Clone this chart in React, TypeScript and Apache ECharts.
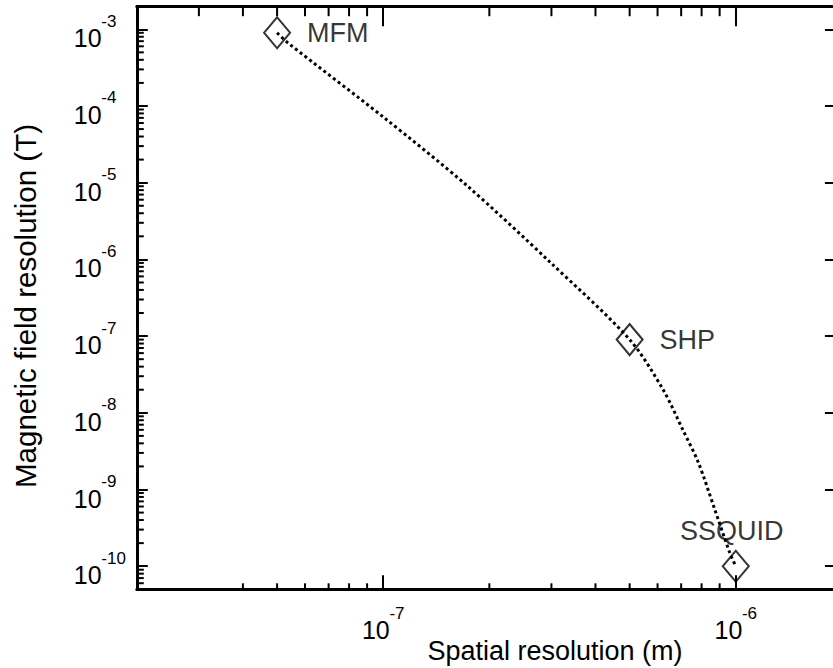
import React, { useEffect, useRef } from 'react';
import * as echarts from 'echarts';

// Instruments (points)
const instruments = ['MFM', 'SHP', 'SSQUID'];
const spatialRes = [5e-8, 5e-7, 1e-6];
const fieldRes = [9e-4, 9e-8, 1e-10];

// Dotted trend curve
const curveX = [5e-8, 5.37e-8, 1e-7, 1.72e-7, 2.97e-7, 5e-7, 6.23e-7, 7.08e-7, 7.84e-7, 8.67e-7, 9.63e-7, 1e-6];
const curveY = [9e-4, 6.63e-4, 7.19e-5, 9.33e-6, 9.25e-7, 9e-8, 1.98e-8, 5.97e-9, 2.22e-9, 5.92e-10, 1.47e-10, 1e-10];

// Axis ranges
const xRange = [2e-8, 2e-6];
const yRange = [5e-11, 2e-3];

// Minor tick values
const xMinorBottom = [4e-8, 5e-8, 6e-8, 7e-8, 8e-8, 9e-8, 2e-7, 3e-7, 4e-7, 5e-7, 6e-7, 7e-7, 8e-7, 9e-7];
const xMinorTop = [3e-8, 4e-8, 5e-8, 6e-8, 7e-8, 8e-8, 9e-8, 2e-7, 3e-7, 4e-7, 5e-7, 6e-7, 7e-7, 8e-7, 9e-7];
const yMinorLeft = [
  6e-11, 7e-11, 8e-11, 9e-11,
  2e-10, 3e-10, 4e-10, 5e-10, 6e-10, 7e-10, 8e-10, 9e-10,
  2e-9, 3e-9, 4e-9, 5e-9, 6e-9, 7e-9, 8e-9, 9e-9,
  2e-8, 3e-8, 4e-8, 5e-8, 6e-8, 7e-8, 8e-8, 9e-8,
  2e-7, 3e-7, 4e-7, 5e-7, 6e-7, 7e-7, 8e-7, 9e-7,
  2e-6, 3e-6, 4e-6, 5e-6, 6e-6, 7e-6, 8e-6, 9e-6,
  2e-5, 3e-5, 4e-5, 5e-5, 6e-5, 7e-5, 8e-5, 9e-5,
  2e-4, 3e-4, 4e-4, 5e-4, 6e-4, 7e-4, 8e-4, 9e-4,
];

const FONT = '"Liberation Sans", Arial, Helvetica, sans-serif';

const powLabel = (v: number) => {
  const l = Math.log10(v);
  const e = Math.round(l);
  if (Math.abs(l - e) > 1e-6) return '';
  return '{s|' + e + '}\n{b|10}';
};

const richLabel = {
  b: { fontSize: 25, lineHeight: 22, fontFamily: FONT, color: '#000', align: 'left' },
  s: { fontSize: 17, lineHeight: 12, fontFamily: FONT, color: '#000', align: 'left', padding: [0, 0, 0, 27.5] },
};

function minorTicks(values: number[], side: 'bottom' | 'top' | 'left', len: number) {
  return {
    type: 'custom',
    silent: true,
    clip: false,
    z: 5,
    data: values.map((v) => (side === 'left' ? [xRange[0], v] : [v, yRange[0]])),
    renderItem: (params: any, api: any) => {
      const cs = params.coordSys;
      const p = api.coord([api.value(0), api.value(1)]);
      let x1 = 0, y1 = 0, x2 = 0, y2 = 0;
      if (side === 'bottom') {
        x1 = x2 = p[0];
        y1 = cs.y + cs.height;
        y2 = y1 - len;
      } else if (side === 'top') {
        x1 = x2 = p[0];
        y1 = cs.y;
        y2 = cs.y + len;
      } else {
        y1 = y2 = p[1];
        x1 = cs.x;
        x2 = cs.x + len;
      }
      return { type: 'line', shape: { x1, y1, x2, y2 }, style: { stroke: '#000', lineWidth: 2 } };
    },
  };
}

export default function App() {
  const ref = useRef<HTMLDivElement>(null);
  useEffect(() => {
    if (!ref.current) return;
    const chart = echarts.init(ref.current, undefined, { renderer: 'svg' });
    const axisLine = { show: true, lineStyle: { color: '#000', width: 3 } };
    chart.setOption({
      animation: false,
      backgroundColor: '#fff',
      grid: {
        left: 136.8,
        top: 6.2,
        right: -8.9,
        bottom: 78.7,
        containLabel: false,
        outerBoundsMode: 'none',
      },
      xAxis: [
        {
          type: 'log',
          logBase: 10,
          min: xRange[0],
          max: xRange[1],
          position: 'bottom',
          axisLine,
          axisTick: { show: true, inside: true, length: 14, lineStyle: { color: '#000', width: 2 } },
          splitLine: { show: false },
          axisLabel: {
            show: true,
            margin: 18,
            formatter: powLabel,
            rich: richLabel,
            hideOverlap: false,
          },
        },
        {
          type: 'log',
          logBase: 10,
          min: xRange[0],
          max: xRange[1],
          position: 'top',
          axisLine,
          axisTick: { show: true, inside: true, length: 20, lineStyle: { color: '#000', width: 2 } },
          splitLine: { show: false },
          axisLabel: { show: false },
        },
      ],
      yAxis: [
        {
          type: 'log',
          logBase: 10,
          min: yRange[0],
          max: yRange[1],
          position: 'left',
          axisLine,
          axisTick: { show: true, inside: true, length: 11, lineStyle: { color: '#000', width: 2 } },
          splitLine: { show: false },
          axisLabel: {
            show: true,
            margin: 63,
            align: 'left',
            padding: [6, 0, 0, 0],
            formatter: powLabel,
            rich: richLabel,
            hideOverlap: false,
          },
        },
        {
          type: 'log',
          logBase: 10,
          min: yRange[0],
          max: yRange[1],
          position: 'right',
          axisLine,
          axisTick: { show: true, inside: true, length: 17, lineStyle: { color: '#000', width: 2 } },
          splitLine: { show: false },
          axisLabel: { show: false },
        },
      ],
      graphic: [
        {
          type: 'text',
          x: 555,
          y: 651,
          style: {
            text: 'Spatial resolution (m)',
            font: `27px ${FONT}`,
            fill: '#000',
            align: 'center',
            verticalAlign: 'middle',
          },
        },
        {
          type: 'text',
          x: 25,
          y: 306,
          rotation: Math.PI / 2,
          style: {
            text: 'Magnetic field resolution (T)',
            font: `29.5px ${FONT}`,
            fill: '#000',
            align: 'center',
            verticalAlign: 'middle',
          },
        },
      ],
      series: [
        minorTicks(xMinorBottom, 'bottom', 6),
        minorTicks(xMinorTop, 'top', 10),
        minorTicks(yMinorLeft, 'left', 7),
        {
          type: 'line',
          name: 'trend',
          data: curveX.map((x, i) => [x, curveY[i]]),
          smooth: 0.3,
          showSymbol: false,
          symbol: 'none',
          silent: true,
          lineStyle: { color: '#000', width: 3, type: [3, 3], cap: 'butt' },
          z: 3,
        },
        {
          type: 'scatter',
          name: 'instruments',
          symbol: 'diamond',
          symbolSize: [26, 31],
          itemStyle: { color: 'rgba(0,0,0,0)', borderColor: '#000', borderWidth: 2 },
          z: 4,
          label: {
            show: true,
            position: 'right',
            distance: 16,
            formatter: (p: any) => p.name,
            fontSize: 27,
            fontFamily: FONT,
            color: '#000',
          },
          data: instruments.map((n, i) => {
            const item: any = { name: n, value: [spatialRes[i], fieldRes[i]] };
            if (n === 'SSQUID') {
              item.label = { position: 'top', distance: 5, offset: [-4, 0] };
            }
            return item;
          }),
        },
      ],
    });
    return () => chart.dispose();
  }, []);
  return (
    <div
      ref={ref}
      style={{ position: 'fixed', left: 0, top: 0, width: 833, height: 668, background: '#fff' }}
    />
  );
}
